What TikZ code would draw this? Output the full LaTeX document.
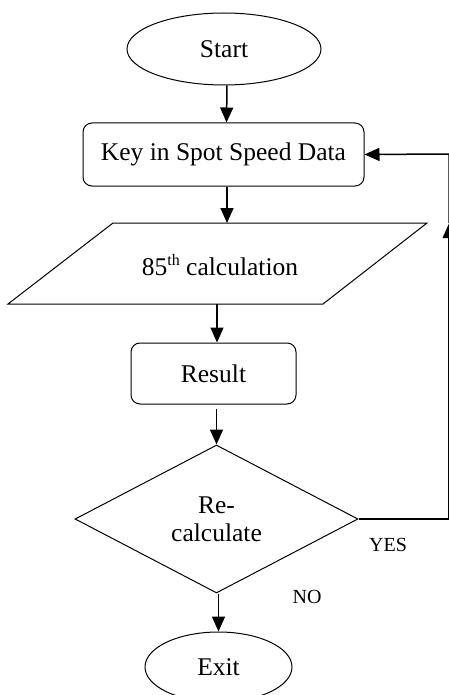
\documentclass[tikz,border=0pt]{standalone}
\usepackage{fontspec}
\setmainfont{Liberation Serif}
\usetikzlibrary{shapes.geometric,arrows.meta}

\begin{document}
\begin{tikzpicture}[x=1pt,y=-1pt,
  every node/.style={font=\fontsize{25.5}{28}\selectfont, inner sep=0pt},
  terminal/.style={draw, ellipse, line width=1pt},
  process/.style={draw, rounded corners=9pt, line width=1pt},
  decision/.style={draw, diamond, aspect=1.9, line width=1pt, align=center},
  outline/.style={draw, line width=1pt},
  flow/.style={line width=1.5pt, -{Triangle[length=15pt,width=13pt]}},
  plain line/.style={line width=1.5pt},
  tag/.style={font=\fontsize{20}{22}\selectfont}]
\useasboundingbox (0,0) rectangle (449,695);

% terminals and process boxes
\node[terminal, minimum width=194pt, minimum height=72pt] (start) at (224,49) {Start};
\node[process, minimum width=281pt, minimum height=63pt] (key) at (223.5,154.5) {Key in Spot Speed Data};

% calculation step (parallelogram)
\coordinate (pTL) at (113,223);
\coordinate (pTR) at (427,223);
\coordinate (pBR) at (323,304);
\coordinate (pBL) at (8,304);
\coordinate (pTop) at (227,223);
\coordinate (pBot) at (217,304);
\draw[outline] (pTL) -- (pTR) -- (pBR) -- (pBL) -- cycle;
\node (calc) at (220,265) {85\raisebox{0.42em}{\fontsize{16}{16}\selectfont th} calculation};

\node[process, minimum width=165pt, minimum height=61pt] (result) at (213.5,373.5) {Result};
\node[decision, minimum width=283pt, minimum height=148pt] (dec) at (216.5,519) {Re-\\calculate};
\node[terminal, minimum width=147pt, minimum height=70pt] (exit) at (218.5,667) {Exit};

% branch labels
\node[tag] (yes) at (388,545) {YES};
\node[tag] (no) at (307,597) {NO};

% main flow
\draw[flow] ([xshift=3pt]start.south) -- ([xshift=3pt]key.north);
\draw[flow] ([xshift=3.5pt]key.south) -- (pTop);
\draw[flow] (pBot) -- (result.north -| pBot);
\draw[flow] ([yshift=-4pt]result.south -| dec.north) -- (dec.north);
\draw[flow] ([xshift=2pt]dec.south) -- (exit.north);

% loop back on YES, running along the right edge
\coordinate (loopA) at (449.2,519);
\coordinate (loopTip) at (449.2,223);
\coordinate (loopB) at (449.2,154);
\draw[plain line] (dec.east) -- (loopA);
\draw[flow] (loopA) -- (loopTip);
\draw[flow] (loopTip) -- (loopB) -- (key.east);
\end{tikzpicture}
\end{document}
